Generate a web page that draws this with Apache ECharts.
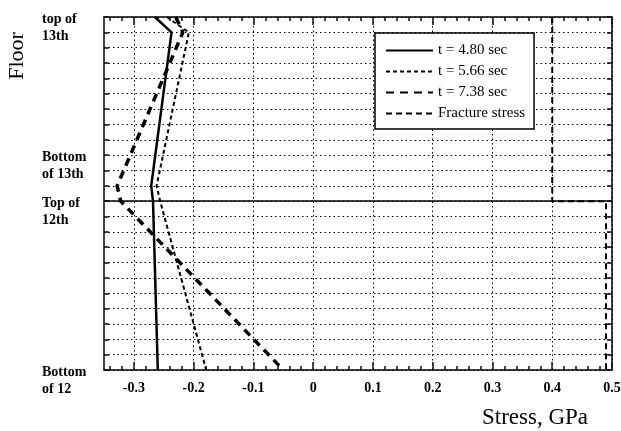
<!DOCTYPE html>
<html><head><meta charset="utf-8">
<script src="https://cdn.jsdelivr.net/npm/echarts@6/dist/echarts.min.js"></script>
<style>html,body{margin:0;padding:0;background:#fff}#c{width:621px;height:431px}</style>
</head><body><div id="c"></div>
<script>
// Floor position index measured from the top of the 13th floor (0) down to the bottom of the 12th (23)
const floorLevels = [0, 1, 11, 12, 23];
const stress480 = [-0.265, -0.237, -0.271, -0.268, -0.260];
const stress566 = [-0.245, -0.208, -0.262, -0.256, -0.179];
const stress738 = [-0.230, -0.218, -0.328, -0.322, -0.050];
const fractureLevels = [0, 12, 12, 23];
const fractureStress = [0.40, 0.40, 0.49, 0.49];
const seriesNames = ['t = 4.80 sec', 't = 5.66 sec', 't = 7.38 sec', 'Fracture stress'];
const floorLabelLevels = [0, 9, 12, 23];
const floorLabelTexts = ['top of\n13th', 'Bottom\nof 13th', 'Top of\n12th', 'Bottom\nof 12'];
const xTickValues = [-0.3, -0.2, -0.1, 0, 0.1, 0.2, 0.3, 0.4, 0.5];
const slabLevel = 12;
const xMin = -0.35, xMax = 0.5, yMin = 0, yMax = 23;

const xMinorTicks = [];
for (let k = -17; k <= 25; k++) { if (k % 5 !== 0) xMinorTicks.push(+(k * 0.02).toFixed(2)); }

const serif = "'Liberation Serif','DejaVu Serif',serif";
function pairs(xs, ys) { return ys.map((y, i) => [xs[i], y]); }
function gridLine() { return { show: true, lineStyle: { color: '#000', width: 1, type: [1.5, 3] } }; }

function xAx(pos, ticks, len, main) {
  return {
    type: 'value', position: pos, min: xMin, max: xMax,
    axisLine: { show: main, onZero: false, lineStyle: { color: '#000', width: 1.5 } },
    axisTick: { show: true, inside: true, length: len, customValues: ticks, lineStyle: { color: '#111', width: 1.5 } },
    axisLabel: {
      show: main && pos === 'bottom', customValues: xTickValues, margin: 11, color: '#000',
      fontFamily: serif, fontSize: 14, fontWeight: 'bold',
      formatter: v => (Math.abs(v) < 1e-9 ? '0' : v.toFixed(1))
    },
    splitLine: (main && pos === 'bottom') ? gridLine() : { show: false }
  };
}
function yAx(pos, main) {
  return {
    type: 'value', position: pos, inverse: true, min: yMin, max: yMax, interval: 1,
    axisLine: { show: true, onZero: false, lineStyle: { color: '#000', width: 1.5 } },
    axisTick: { show: true, inside: true, length: 5, lineStyle: { color: '#111', width: 1.5 } },
    axisLabel: {
      show: main, customValues: floorLabelLevels, align: 'left', verticalAlign: 'top',
      margin: 62, padding: [-6, 0, 0, 0], lineHeight: 17,
      color: '#000', fontFamily: serif, fontSize: 14, fontWeight: 'bold',
      formatter: v => floorLabelTexts[floorLabelLevels.indexOf(Math.round(v))] || ''
    },
    splitLine: main ? gridLine() : { show: false }
  };
}

const chart = echarts.init(document.getElementById('c'), null, { renderer: 'canvas' });
chart.setOption({
  animation: false,
  backgroundColor: '#fff',
  grid: { left: 104, top: 17, right: 9, bottom: 61, outerBoundsMode: 'none' },
  legend: {
    orient: 'vertical', left: 375, top: 33, padding: [10, 9, 8, 10],
    itemGap: 6, itemWidth: 47, itemHeight: 14, itemTextGap: 3,
    borderColor: '#000', borderWidth: 1.5, borderRadius: 0, backgroundColor: '#fff',
    itemStyle: { opacity: 0 },
    textStyle: { fontFamily: serif, fontSize: 15, color: '#000' },
    data: seriesNames
  },
  xAxis: [
    xAx('bottom', xTickValues, 8, true),
    xAx('bottom', xMinorTicks, 4, false),
    xAx('top', xTickValues, 8, true),
    xAx('top', xMinorTicks, 4, false)
  ],
  yAxis: [yAx('left', true), yAx('right', false)],
  graphic: [
    { type: 'text', x: 17, y: 56, rotation: Math.PI / 2,
      style: { text: 'Floor', font: "22px 'Liberation Serif'", fill: '#000', align: 'center', verticalAlign: 'middle' } },
    { type: 'text', x: 535, y: 418,
      style: { text: 'Stress, GPa', font: "23px 'Liberation Serif'", fill: '#000', align: 'center', verticalAlign: 'middle' } }
  ],
  series: [
    { name: seriesNames[0], type: 'line', symbol: 'none', data: pairs(stress480, floorLevels),
      itemStyle: { color: '#000' }, lineStyle: { color: '#000', width: 2.5, type: 'solid' } },
    { name: seriesNames[1], type: 'line', symbol: 'none', data: pairs(stress566, floorLevels),
      itemStyle: { color: '#000' }, lineStyle: { color: '#000', width: 2, type: [4, 3] } },
    { name: seriesNames[2], type: 'line', symbol: 'none', data: pairs(stress738, floorLevels),
      itemStyle: { color: '#000' }, lineStyle: { color: '#000', width: 3.5, type: [8, 6] } },
    { name: seriesNames[3], type: 'line', symbol: 'none', data: pairs(fractureStress, fractureLevels),
      itemStyle: { color: '#000' }, lineStyle: { color: '#000', width: 2, type: [6, 4] },
      markLine: { silent: true, symbol: 'none', label: { show: false },
        lineStyle: { color: '#000', width: 1.5, type: 'solid' }, data: [{ yAxis: slabLevel }] } }
  ]
});
</script>
</body></html>
